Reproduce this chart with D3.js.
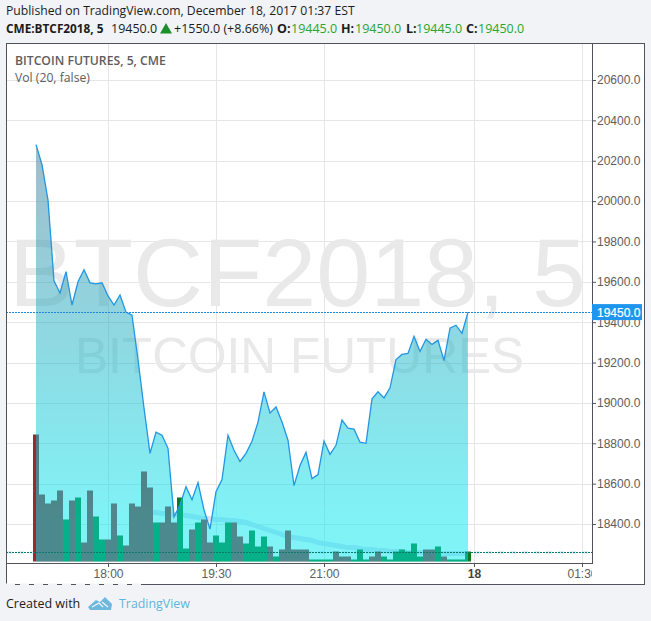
<!DOCTYPE html>
<html lang="en">
<head>
<meta charset="UTF-8">
<title>BTCF2018</title>
<style>
  html, body { margin: 0; padding: 0; background: #f1f3f6; }
  svg { display: block; }
  .head { font-family: "Open Sans", sans-serif; font-size: 12.2px; fill: #1c1c1c; }
  .axis text { font-family: "Liberation Sans", Arial, sans-serif; font-size: 12px; fill: #5d5d5d; }
  .axis line { stroke: #50535e; }
  .axis path { display: none; }
</style>
</head>
<body>
<svg width="651" height="621"></svg>
<script src="https://d3js.org/d3.v7.min.js"></script>
<script>

// close price of every 5 minute bar
var closes = [20280, 20180, 20005, 19605, 19545, 19650, 19485, 19600, 19660, 19595,
  19590, 19595, 19530, 19485, 19535, 19450, 19435, 19215, 18975, 18750,
  18855, 18840, 18775, 18435, 18495, 18585, 18520, 18605, 18470, 18375,
  18560, 18620, 18840, 18765, 18710, 18750, 18810, 18905, 19055, 18950,
  18980, 18905, 18815, 18590, 18690, 18755, 18625, 18645, 18810, 18745,
  18790, 18915, 18875, 18870, 18805, 18800, 19020, 19055, 19025, 19075,
  19215, 19240, 19245, 19330, 19255, 19315, 19290, 19310, 19210, 19370,
  19385, 19345, 19450];

var volumes = [127, 67, 58, 61, 71, 42, 61, 64, 19, 71,
  45, 22, 22, 58, 26, 16, 58, 55, 90, 74,
  39, 39, 55, 39, 64, 13, 32, 39, 42, 19,
  26, 19, 39, 39, 25, 18, 31, 15, 25, 15,
  5, 12, 31, 12, 12, 12, 2, 2, 2, 2,
  10, 5, 5, 2, 12, 2, 5, 10, 5, 2,
  10, 12, 10, 18, 5, 12, 12, 15, 5, 2,
  2, 2, 10];

// 1 = up bar, 0 = down bar
var volumeUp = [0, 0, 0, 0, 0, 1, 0, 1, 0, 0,
  1, 1, 0, 0, 1, 0, 0, 0, 0, 0,
  1, 0, 0, 0, 1, 1, 0, 1, 0, 0,
  1, 1, 1, 0, 0, 1, 1, 1, 1, 0,
  1, 0, 0, 0, 0, 0, 1, 1, 1, 1,
  0, 0, 0, 1, 1, 1, 0, 0, 1, 1,
  1, 1, 1, 1, 1, 0, 0, 1, 0, 1,
  1, 1, 1];

// Vol (20) moving average, starts at bar 19
var volumeMA = [49, 49, 48, 48, 47, 47, 46, 45, 44, 43,
  43, 42, 42, 41, 41, 40, 39, 37, 35, 33,
  31, 29, 27, 25, 24, 23, 22, 21, 19, 18,
  17, 16, 15, 14, 14, 13, 12, 12, 11, 11,
  10, 10, 10, 9, 9, 9, 9, 9, 8, 8,
  8, 8, 8, 8];

var priceTicks = [18400, 18600, 18800, 19000, 19200, 19400, 19600, 19800, 20000, 20200, 20400, 20600];
var timeTickBars = [12, 30, 48, 73, 91];
var timeTickLabels = ["18:00", "19:30", "21:00", "18", "01:30"];
var lastPrice = 19450;
var lastVolume = 10;

var svg = d3.select("svg");

var plot = {left: 6, top: 43, right: 592, bottom: 563};
var outerRight = 644, outerBottom = 584;

var x = d3.scaleLinear().domain([0, 72]).range([36, 468]);
var y = d3.scaleLinear().domain([18400, 20600]).range([524, 80]);
var v = d3.scaleLinear().domain([0, 127]).range([561.5, 434.5]);
var barWidth = x(1) - x(0);

// header
svg.append("text").attr("class", "head").attr("x", 6).attr("y", 15)
  .text("Published on TradingView.com, December 18, 2017 01:37 EST");

var quote = svg.append("text").attr("class", "head").attr("y", 33).style("font-size", "12.5px");
function quotePart(px, label, fill, bold, size) {
  var t = quote.append("tspan").attr("x", px).text(label);
  if (fill) t.attr("fill", fill).style("fill", fill);
  if (bold) t.attr("font-weight", 700);
  if (size) t.style("font-size", size + "px");
}
quotePart(6, "CME:BTCF2018, 5", null, true, 11.8);
quotePart(111, "19450.0");
quotePart(174, "+1550.0 (+8.66%)");
quotePart(277, "O:", null, true);
quotePart(291, "19445.0", "#2aa52e");
quotePart(341, "H:", null, true);
quotePart(355, "19450.0", "#2aa52e");
quotePart(406, "L:", null, true);
quotePart(416, "19445.0", "#2aa52e");
quotePart(466, "C:", null, true);
quotePart(478, "19450.0", "#2aa52e");

svg.append("path").attr("d", d3.symbol().type(d3.symbolTriangle).size(62))
  .attr("transform", "translate(166,30)").attr("fill", "#1a8f2b");

// panes
svg.append("rect").attr("x", plot.left).attr("y", plot.top)
  .attr("width", outerRight - plot.left).attr("height", outerBottom - plot.top)
  .attr("fill", "#fff");

// grid
svg.append("g").selectAll("line").data(priceTicks).enter().append("line")
  .attr("x1", plot.left).attr("x2", plot.right)
  .attr("y1", function(d) { return Math.round(y(d)) + 0.5; })
  .attr("y2", function(d) { return Math.round(y(d)) + 0.5; })
  .attr("stroke", "#e6e6e6");
svg.append("g").selectAll("line").data(timeTickBars).enter().append("line")
  .attr("x1", function(d) { return x(d) + 0.5; })
  .attr("x2", function(d) { return x(d) + 0.5; })
  .attr("y1", plot.top).attr("y2", plot.bottom)
  .attr("stroke", "#e6e6e6");

// watermark
svg.append("text").attr("x", 9).attr("y", 306)
  .attr("font-family", "Liberation Sans, Arial, sans-serif").attr("font-size", 97)
  .attr("fill", "#e9e9e9").text("BTCF2018, 5");
svg.append("text").attr("x", 75).attr("y", 373)
  .attr("font-family", "Liberation Sans, Arial, sans-serif").attr("font-size", 49.6)
  .attr("fill", "#e9e9e9").text("BITCOIN FUTURES");

// pale halo of the volume last value line
svg.append("line").attr("x1", plot.left).attr("x2", plot.right)
  .attr("y1", Math.round(v(lastVolume)) + 0.5).attr("y2", Math.round(v(lastVolume)) + 0.5)
  .attr("stroke", "#cfeaf5").attr("stroke-width", 3).attr("stroke-dasharray", "6,6").attr("opacity", 0.7);

// volume MA sits under the bars and the area
var maLine = d3.line()
  .x(function(d, i) { return x(i + 19); })
  .y(function(d) { return v(d); })
  .curve(d3.curveMonotoneX);

svg.append("path").datum(volumeMA).attr("d", maLine)
  .attr("fill", "none").attr("stroke", "#dce0f4").attr("stroke-width", 5);

// volume bars go under the price area
svg.append("g").selectAll("rect").data(volumes).enter().append("rect")
  .attr("x", function(d, i) { return x(i) - barWidth / 2; })
  .attr("width", barWidth)
  .attr("y", function(d) { return v(d); })
  .attr("height", function(d) { return v(0) - v(d); })
  .attr("fill", function(d, i) { return volumeUp[i] ? "#0c7a22" : "#962c2c"; });

// price area
var grad = svg.append("defs").append("linearGradient")
  .attr("id", "areaFill").attr("gradientUnits", "userSpaceOnUse")
  .attr("x1", 0).attr("x2", 0).attr("y1", y(20280)).attr("y2", v(40));
grad.append("stop").attr("offset", 0).attr("stop-color", "#3f7997").attr("stop-opacity", 0.5);
grad.append("stop").attr("offset", 1).attr("stop-color", "#00e7ef").attr("stop-opacity", 0.5);

var area = d3.area()
  .x(function(d, i) { return x(i); })
  .y0(v(0))
  .y1(function(d) { return y(d); });

svg.append("path").datum(closes).attr("d", area).attr("fill", "url(#areaFill)");

var line = d3.line()
  .x(function(d, i) { return x(i); })
  .y(function(d) { return y(d); });

svg.append("path").datum(closes).attr("d", line)
  .attr("fill", "none").attr("stroke", "#2196e3").attr("stroke-width", 1.3);

// last value lines
svg.append("line").attr("x1", plot.left).attr("x2", plot.right)
  .attr("y1", Math.round(y(lastPrice)) + 0.5).attr("y2", Math.round(y(lastPrice)) + 0.5)
  .attr("stroke", "#1e88d8").attr("stroke-dasharray", "2,1");
svg.append("line").attr("x1", plot.left).attr("x2", plot.right)
  .attr("y1", Math.round(v(lastVolume)) + 0.5).attr("y2", Math.round(v(lastVolume)) + 0.5)
  .attr("stroke", "#0b7a6a").attr("stroke-dasharray", "2,1");

// axes
svg.append("g").attr("class", "axis")
  .attr("transform", "translate(" + plot.right + ",0)")
  .call(d3.axisRight(y).tickValues(priceTicks).tickSize(4).tickPadding(1)
    .tickFormat(function(d) { return d.toFixed(1); }));

// the last time label is cut off at the price axis
svg.append("clipPath").attr("id", "timeClip").append("rect")
  .attr("x", 0).attr("y", plot.bottom).attr("width", plot.right).attr("height", 30);

var timeAxis = svg.append("g").attr("clip-path", "url(#timeClip)").append("g").attr("class", "axis")
  .attr("transform", "translate(0," + plot.bottom + ")")
  .call(d3.axisBottom(x).tickValues(timeTickBars).tickSize(4).tickPadding(2)
    .tickFormat(function(d, i) { return timeTickLabels[i]; }));
timeAxis.selectAll("text").filter(function(d) { return d === 73; })
  .attr("font-weight", 700).style("fill", "#444");

// frame
svg.append("rect").attr("x", plot.left + 0.5).attr("y", plot.top + 0.5)
  .attr("width", outerRight - plot.left).attr("height", outerBottom - plot.top)
  .attr("fill", "none").attr("stroke", "#50535e");
svg.append("line").attr("x1", plot.right + 0.5).attr("x2", plot.right + 0.5)
  .attr("y1", plot.top).attr("y2", plot.bottom).attr("stroke", "#50535e");
svg.append("line").attr("x1", plot.left).attr("x2", plot.right + 1)
  .attr("y1", plot.bottom + 0.5).attr("y2", plot.bottom + 0.5).attr("stroke", "#50535e");
// bottom edge is broken up on the left in the reference
svg.append("line").attr("x1", 6).attr("x2", 146)
  .attr("y1", outerBottom + 0.5).attr("y2", outerBottom + 0.5)
  .attr("stroke", "#f1f3f6").attr("stroke-width", 2).attr("stroke-dasharray", "9,5");

// last price label
var tag = svg.append("g").attr("transform", "translate(" + plot.right + "," + y(lastPrice) + ")");
tag.append("rect").attr("x", 0).attr("y", -8).attr("width", 50).attr("height", 16).attr("fill", "#1e96f0");
tag.append("text").attr("x", 5).attr("y", 4.5).attr("fill", "#fff")
  .attr("font-family", "Liberation Sans, Arial, sans-serif").attr("font-size", 12)
  .attr("stroke", "#fff").attr("stroke-width", 0.2)
  .text("19450.0");

// legend in the pane
svg.append("text").attr("class", "head").attr("x", 15).attr("y", 65)
  .attr("font-weight", 600).style("fill", "#5d5d5d").text("BITCOIN FUTURES, 5, CME");
svg.append("text").attr("class", "head").attr("x", 15).attr("y", 82)
  .style("fill", "#5d5d5d").text("Vol (20, false)");

// footer
svg.append("text").attr("class", "head").attr("x", 6).attr("y", 608).style("font-size", "12.5px").text("Created with");
var logo = svg.append("g").attr("transform", "translate(88,597)").attr("fill", "#6db8dc");
logo.append("path").attr("d", "M0 10 L8 3 L12 5 L17 0 L20 3 L24 7 L23 13 L2 13 Z");
logo.append("path").attr("d", "M4 10 L11 6 L15 10 M14 5 L20 10").attr("stroke", "#f1f3f6").attr("stroke-width", 1.3).attr("fill", "none");
svg.append("text").attr("x", 119).attr("y", 608)
  .attr("font-family", "Open Sans, sans-serif").attr("font-size", 12.4).attr("fill", "#62b3dd").text("TradingView");

</script>
</body>
</html>
